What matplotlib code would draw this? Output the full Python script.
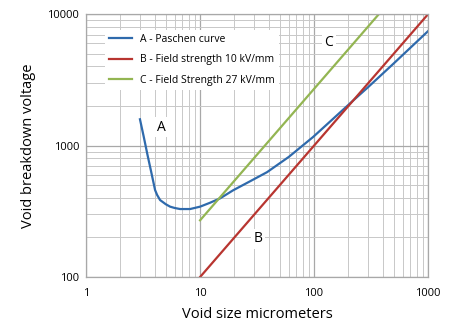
import matplotlib.pyplot as plt
from matplotlib.ticker import LogLocator, NullFormatter, FixedLocator

plt.rcParams['font.family'] = ['Open Sans', 'DejaVu Sans']

# Paschen curve
pas_x = [2.97, 3.2, 3.46, 3.7, 4.03, 4.2, 4.46, 5.0, 5.46, 6.0, 6.68, 8.17, 10, 12.2, 15, 19.5, 28, 38.7, 60, 98, 140, 220, 300, 500, 1000]
pas_v = [1585, 1175, 847, 649, 459, 421, 385, 358, 343, 335, 329, 329, 343, 367, 397, 457, 540, 628, 820, 1162, 1540, 2200, 2800, 4220, 7430]

# straight field strength lines, V = E * d
b_x = [10, 1000]
b_v = [100, 10000]
c_x = [10, 370]
c_v = [270, 10000]

blue = '#2f6aac'
red = '#b83530'
green = '#93b552'

fig = plt.figure(figsize=(4.53, 3.29), dpi=100)
ax = fig.add_axes([0.19, 0.158, 0.755, 0.799])

ax.plot(pas_x, pas_v, color=blue, lw=1.6, label='A - Paschen curve')
ax.plot(b_x, b_v, color=red, lw=1.6, label='B - Field strength 10 kV/mm')
ax.plot(c_x, c_v, color=green, lw=1.6, label='C - Field Strength 27 kV/mm')

ax.set_xscale('log')
ax.set_yscale('log')
ax.set_xlim(1, 1000)
ax.set_ylim(100, 10000)

ax.xaxis.set_major_locator(FixedLocator([1, 10, 100, 1000]))
ax.yaxis.set_major_locator(FixedLocator([100, 1000, 10000]))
ax.set_xticklabels(['1', '10', '100', '1000'])
ax.set_yticklabels(['100', '1000', '10000'])
ax.xaxis.set_minor_locator(LogLocator(base=10, subs=range(2, 10)))
ax.yaxis.set_minor_locator(LogLocator(base=10, subs=range(2, 10)))
ax.xaxis.set_minor_formatter(NullFormatter())
ax.yaxis.set_minor_formatter(NullFormatter())

ax.grid(which='major', color='#a8a8a8', lw=0.9)
ax.grid(which='minor', color='#c8c8c8', lw=0.7)
ax.set_axisbelow(True)
ax.tick_params(which='both', length=0, labelsize=8)
ax.tick_params(axis='x', pad=8)
ax.tick_params(axis='y', pad=5)
for s in ax.spines.values():
    s.set_color('#a8a8a8')
    s.set_linewidth(0.9)

ax.set_xlabel('Void size micrometers', fontsize=10.5, labelpad=6)
ax.set_ylabel('Void breakdown voltage', fontsize=10.5, labelpad=8)

box = dict(facecolor='white', edgecolor='none', pad=2)
ax.text(4.55, 1380, 'A', fontsize=10, ha='center', va='center', bbox=box)
ax.text(32.3, 195, 'B', fontsize=10, ha='center', va='center', bbox=box)
ax.text(135, 6120, 'C', fontsize=10, ha='center', va='center', bbox=box)

leg = ax.legend(loc='upper left', bbox_to_anchor=(0.04, 0.96), fontsize=7.5,
                frameon=True, fancybox=False, handlelength=2.2, labelspacing=0.9)
leg.get_frame().set_edgecolor('none')
leg.get_frame().set_facecolor('white')
leg.get_frame().set_alpha(1)

fig.savefig('out.png', dpi=100)
